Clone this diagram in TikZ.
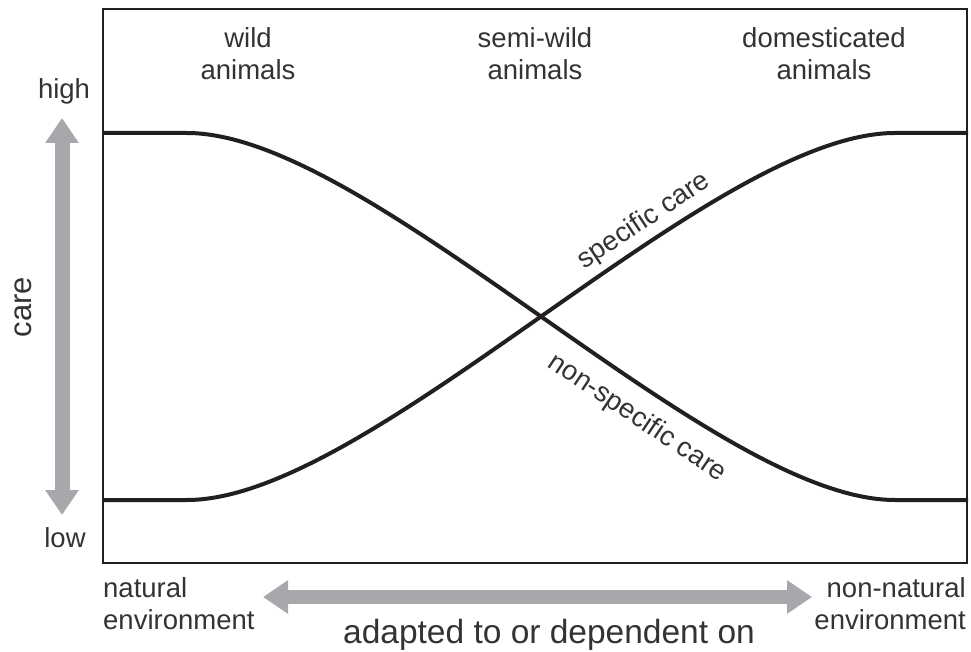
\documentclass[tikz,border=0pt]{standalone}
\usepackage{fontspec}
\setmainfont{Liberation Sans}
\usetikzlibrary{arrows.meta}
\definecolor{txt}{HTML}{333333}
\definecolor{ln}{HTML}{231F20}
\definecolor{arr}{HTML}{A7A8AC}
\tikzset{
  lbl/.style={inner sep=0pt, text=txt, font=\fontsize{27.5}{32}\selectfont},
  curve/.style={draw=ln, line width=4pt},
  frame/.style={draw=ln, line width=2.5pt},
  grayarrow/.style={draw=arr, line width=#1, {Triangle[width=32pt,length=25pt]}-{Triangle[width=32pt,length=25pt]}},
}
\begin{document}
\begin{tikzpicture}[x=1pt,y=-1pt]
\useasboundingbox (0,0) rectangle (971,652);
% frame
\draw[frame] (103,9) rectangle (967,563);
% curves
\coordinate (nsA) at (103,133);
\coordinate (nsB) at (187,133);
\coordinate (nsC) at (895,500);
\coordinate (nsD) at (968,500);
\coordinate (spA) at (103,500);
\coordinate (spB) at (187,500);
\coordinate (spC) at (895,133);
\coordinate (spD) at (968,133);
\draw[curve] (nsA) -- (nsB) .. controls (371,133) and (711,500) .. (nsC) -- (nsD);
\draw[curve] (spA) -- (spB) .. controls (371,500) and (711,133) .. (spC) -- (spD);
% curve labels
\node[lbl, rotate=33.5] (spec) at (644,221) {specific care};
\node[lbl, rotate=-33.8] (nonspec) at (637,418) {non-specific care};
% top labels
\node[lbl, align=center, anchor=north] (wild) at (248,27) {wild\\animals};
\node[lbl, align=center, anchor=north] (semi) at (535,27) {semi-wild\\animals};
\node[lbl, align=center, anchor=north] (dom) at (824,27) {domesticated\\animals};
% left axis
\node[lbl, anchor=base] (high) at (64,99) {high};
\node[lbl, anchor=base] (low) at (65,547) {low};
\node[lbl, rotate=90, font=\fontsize{31}{36}\selectfont] (care) at (23,307) {care};
\coordinate (vtop) at (62,118);
\coordinate (vbot) at (62,515);
\draw[grayarrow=15pt] (vtop) -- (vbot);
% bottom axis
\node[lbl, align=left, anchor=north west] (nat) at (103,577) {natural\\environment};
\node[lbl, align=right, anchor=north east] (nonnat) at (966,577) {non-natural\\environment};
\coordinate (hleft) at (263,597);
\coordinate (hright) at (812,597);
\draw[grayarrow=13.5pt] (hleft) -- (hright);
\node[lbl, anchor=base, font=\fontsize{33.5}{38}\selectfont] (adapt) at (549,643) {adapted to or dependent on};
\end{tikzpicture}
\end{document}
